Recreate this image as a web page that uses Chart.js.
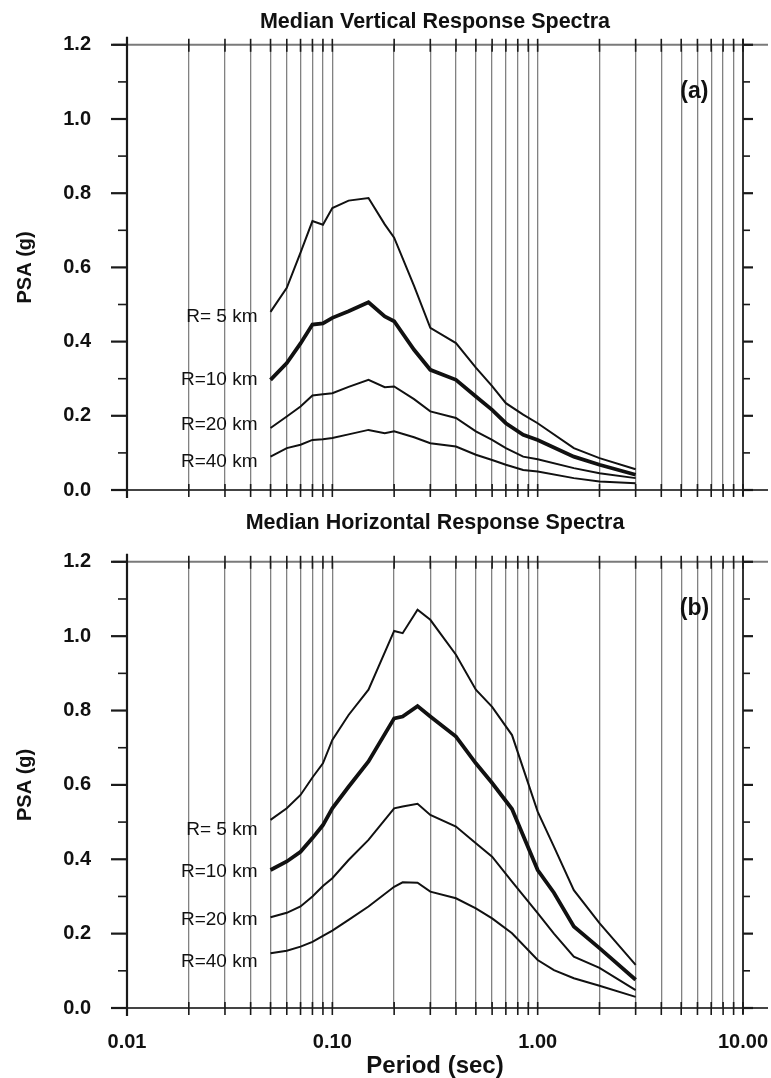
<!DOCTYPE html>
<html>
<head>
<meta charset="utf-8">
<title>Median Response Spectra</title>
<script src="https://cdn.jsdelivr.net/npm/chart.js@4.4.1/dist/chart.umd.min.js"></script>
<style>
  html, body { margin: 0; padding: 0; background: #fff; }
  #wrap { position: relative; width: 771px; height: 1078px; }
  .box { position: absolute; left: 0; width: 771px; }
  #box-a { top: 0; height: 505px; }
  #box-b { top: 505px; height: 573px; }
</style>
</head>
<body>
<div id="wrap">
  <div class="box" id="box-a"><canvas id="chart-a"></canvas></div>
  <div class="box" id="box-b"><canvas id="chart-b"></canvas></div>
</div>
<script>
// periods (sec) and median PSA (g)
const periodsV = [0.05, 0.06, 0.07, 0.08, 0.09, 0.1, 0.12, 0.15, 0.18, 0.2, 0.25, 0.3, 0.4, 0.5, 0.6, 0.7, 0.85, 1.0, 1.5, 2.0, 3.0];
const vertR5  = [0.48, 0.545, 0.64, 0.725, 0.715, 0.76, 0.78, 0.787, 0.716, 0.68, 0.55, 0.437, 0.396, 0.33, 0.28, 0.234, 0.203, 0.18, 0.113, 0.086, 0.056];
const vertR10 = [0.297, 0.342, 0.395, 0.446, 0.449, 0.464, 0.482, 0.506, 0.468, 0.455, 0.378, 0.324, 0.297, 0.252, 0.216, 0.18, 0.149, 0.135, 0.09, 0.068, 0.041];
const vertR20 = [0.167, 0.198, 0.225, 0.255, 0.258, 0.261, 0.278, 0.297, 0.277, 0.279, 0.245, 0.212, 0.194, 0.158, 0.135, 0.113, 0.09, 0.083, 0.059, 0.045, 0.032];
const vertR40 = [0.09, 0.113, 0.122, 0.135, 0.137, 0.14, 0.15, 0.162, 0.153, 0.158, 0.142, 0.126, 0.117, 0.095, 0.081, 0.068, 0.054, 0.05, 0.032, 0.023, 0.018];

const periodsH = [0.05, 0.06, 0.07, 0.08, 0.09, 0.1, 0.12, 0.15, 0.2, 0.22, 0.26, 0.3, 0.4, 0.5, 0.6, 0.75, 1.0, 1.2, 1.5, 2.0, 3.0];
const horizR5  = [0.506, 0.537, 0.573, 0.62, 0.658, 0.721, 0.788, 0.856, 1.014, 1.008, 1.071, 1.044, 0.95, 0.856, 0.81, 0.734, 0.528, 0.434, 0.317, 0.228, 0.116];
const horizR10 = [0.371, 0.394, 0.42, 0.457, 0.492, 0.537, 0.595, 0.663, 0.779, 0.784, 0.812, 0.784, 0.73, 0.658, 0.605, 0.535, 0.371, 0.31, 0.219, 0.161, 0.076];
const horizR20 = [0.244, 0.256, 0.273, 0.3, 0.328, 0.349, 0.398, 0.452, 0.537, 0.542, 0.549, 0.519, 0.488, 0.443, 0.407, 0.34, 0.255, 0.2, 0.138, 0.108, 0.048];
const horizR40 = [0.147, 0.154, 0.165, 0.178, 0.194, 0.208, 0.237, 0.273, 0.326, 0.338, 0.337, 0.313, 0.295, 0.268, 0.241, 0.201, 0.129, 0.102, 0.08, 0.06, 0.03];

const curveLabels = ['R= 5 km', 'R=10 km', 'R=20 km', 'R=40 km'];
const labelAtV = [0.467, 0.297, 0.175, 0.076];
const labelAtH = [0.479, 0.367, 0.237, 0.125];

// vertical grid lines / tick marks on the period axis
const periodTicks = [0.01, 0.02, 0.03, 0.04, 0.05, 0.06, 0.07, 0.08, 0.09,
                     0.1, 0.2, 0.3, 0.4, 0.5, 0.6, 0.7, 0.8, 0.9,
                     1, 2, 3, 4, 5, 6, 7, 8, 9, 10];
const labelledPeriods = [0.01, 0.1, 1, 10];
const periodTickText = ['0.01', '0.10', '1.00', '10.00'];

const FONT = '"Liberation Sans", Arial, Helvetica, sans-serif';
Chart.defaults.font.family = FONT;
Chart.defaults.color = '#111';

const framePlugin = {
  id: 'frame',
  beforeDatasetsDraw(chart) {
    const { ctx, chartArea: a, scales: { x, y } } = chart;
    const yTop = y.getPixelForValue(1.2);
    const yBot = y.getPixelForValue(0);
    const xR = x.getPixelForValue(10);
    ctx.save();
    ctx.lineCap = 'butt';
    // top and bottom rules, a bit wider than the frame
    ctx.strokeStyle = '#7a7a7a';
    ctx.lineWidth = 2;
    ctx.beginPath(); ctx.moveTo(a.left - 14, yTop); ctx.lineTo(xR + 25, yTop); ctx.stroke();
    ctx.strokeStyle = '#444';
    ctx.lineWidth = 2.2;
    ctx.beginPath(); ctx.moveTo(a.left - 14, yBot); ctx.lineTo(xR + 25, yBot); ctx.stroke();
    // side axes
    ctx.strokeStyle = '#1a1a1a';
    ctx.lineWidth = 2.2;
    ctx.beginPath(); ctx.moveTo(a.left, yTop - 8); ctx.lineTo(a.left, yBot + 8); ctx.stroke();
    ctx.strokeStyle = '#333';
    ctx.lineWidth = 2;
    ctx.beginPath(); ctx.moveTo(xR, yTop - 6); ctx.lineTo(xR, yBot + 6); ctx.stroke();
    // y tick marks, long every 0.2, short every 0.1
    ctx.strokeStyle = '#1a1a1a';
    y.ticks.forEach(t => {
      const py = y.getPixelForValue(t.value);
      const major = Math.round(t.value * 10) % 2 === 0;
      ctx.lineWidth = major ? 2.2 : 1.6;
      ctx.beginPath(); ctx.moveTo(a.left - (major ? 16 : 9), py); ctx.lineTo(a.left, py); ctx.stroke();
      ctx.beginPath(); ctx.moveTo(xR, py); ctx.lineTo(xR + (major ? 10 : 7), py); ctx.stroke();
    });
    // x tick marks crossing the top and bottom rules
    ctx.lineWidth = 1.6;
    x.ticks.forEach(t => {
      const px = x.getPixelForValue(t.value);
      [yTop, yBot].forEach(py => {
        ctx.beginPath(); ctx.moveTo(px, py - 6); ctx.lineTo(px, py + 7); ctx.stroke();
      });
    });
    ctx.restore();
  },
  afterDatasetsDraw(chart, args, opts) {
    const { ctx, scales: { x, y } } = chart;
    ctx.save();
    ctx.fillStyle = '#111';
    ctx.font = '19px ' + FONT;
    ctx.textAlign = 'right';
    ctx.textBaseline = 'middle';
    const x0 = x.getPixelForValue(0.05) - 13;
    curveLabels.forEach((t, i) => ctx.fillText(t, x0, y.getPixelForValue(opts.labelAt[i])));
    ctx.font = 'bold 23px ' + FONT;
    ctx.textAlign = 'center';
    ctx.fillText(opts.panel, x.getPixelForValue(5.8), y.getPixelForValue(1.075));
    ctx.restore();
  }
};

function makeChart(id, title, titlePad, panel, periods, series, labelAt, showX) {
  const datasets = series.map((vals, i) => ({
    label: curveLabels[i],
    data: periods.map((p, j) => ({ x: p, y: vals[j] })),
    borderColor: '#111',
    borderWidth: i === 1 ? 3.8 : 2,
    pointRadius: 0,
    tension: 0,
    fill: false
  }));

  return new Chart(document.getElementById(id), {
    type: 'line',
    data: { datasets },
    plugins: [framePlugin],
    options: {
      responsive: true,
      maintainAspectRatio: false,
      animation: false,
      layout: { padding: { left: 0, right: 28, top: 0, bottom: 0 } },
      plugins: {
        legend: { display: false },
        tooltip: { enabled: false },
        title: {
          display: true,
          text: title,
          fullSize: false,
          color: '#111',
          font: { size: 21.5, weight: 'bold' },
          padding: titlePad
        },
        frame: { panel, labelAt }
      },
      scales: {
        x: {
          type: 'logarithmic',
          min: 0.01,
          max: 10,
          afterBuildTicks: s => { s.ticks = periodTicks.map(v => ({ value: v })); },
          afterFit: s => {
            s.height = showX ? 70 : 15;
            s.paddingLeft = 0;
            s.paddingRight = 0;
          },
          border: { display: false },
          grid: { color: '#818181', lineWidth: 1.3, drawTicks: false },
          ticks: {
            display: showX,
            autoSkip: false,
            maxRotation: 0,
            padding: 22,
            color: '#111',
            font: { size: 20, weight: 'bold' },
            callback: v => {
              const i = labelledPeriods.indexOf(v);
              return i >= 0 ? periodTickText[i] : '';
            }
          },
          title: {
            display: showX,
            text: 'Period (sec)',
            color: '#111',
            font: { size: 24, weight: 'bold', lineHeight: 1 },
            padding: 0
          }
        },
        y: {
          min: 0,
          max: 1.2,
          afterFit: s => {
            s.width = 127;
            s.paddingTop = 0;
            s.paddingBottom = 0;
          },
          border: { display: false },
          grid: { display: false },
          ticks: {
            stepSize: 0.1,
            padding: 28,
            color: '#111',
            font: { size: 20, weight: 'bold' },
            callback: v => (Math.round(v * 10) % 2 ? '' : v.toFixed(1))
          },
          title: {
            display: true,
            text: 'PSA (g)',
            color: '#111',
            font: { size: 20, weight: 'bold' },
            padding: { top: 13, bottom: 0 }
          }
        }
      }
    }
  });
}

makeChart('chart-a', 'Median Vertical Response Spectra', { top: 9, bottom: 10 }, '(a)',
  periodsV, [vertR5, vertR10, vertR20, vertR40], labelAtV, false);
makeChart('chart-b', 'Median Horizontal Response Spectra', { top: 5, bottom: 26 }, '(b)',
  periodsH, [horizR5, horizR10, horizR20, horizR40], labelAtH, true);
</script>
</body>
</html>
